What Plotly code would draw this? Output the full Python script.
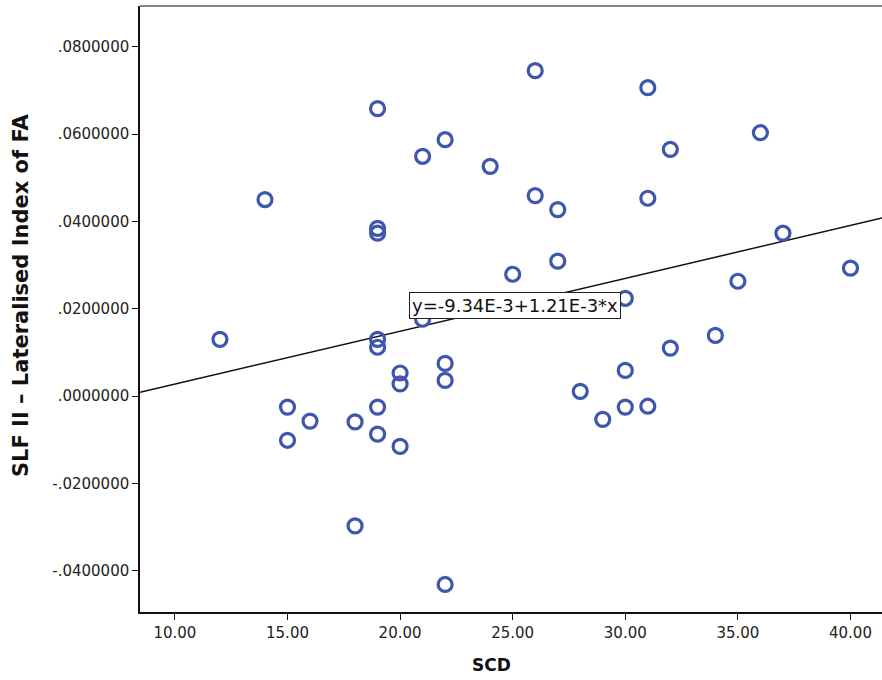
import plotly.graph_objects as go

scd = [12, 14, 15, 15, 16, 18, 18, 19, 19, 19, 19, 19, 19, 19, 20, 20, 20, 21, 21,
       22, 22, 22, 22, 24, 25, 26, 26, 27, 27, 28, 29, 30, 30, 30, 31, 31, 31,
       32, 32, 34, 35, 36, 37, 40]
lat_fa = [0.0130, 0.0450, -0.0025, -0.0101, -0.0057, -0.0059, -0.0297, 0.0658,
          0.0384, 0.0373, 0.0130, 0.0112, -0.0025, -0.0087, 0.0053, 0.0028, -0.0115,
          0.0549, 0.0176, 0.0587, 0.0075, 0.0036, -0.0431, 0.0526, 0.0279, 0.0745,
          0.0459, 0.0427, 0.0309, 0.0011, -0.0053, 0.0224, 0.0059, -0.0025, 0.0706,
          0.0453, -0.0023, 0.0565, 0.0110, 0.0139, 0.0263, 0.0603, 0.0373, 0.0293]

fit_intercept = -9.34e-3
fit_slope = 1.21e-3
fit_label = "y=-9.34E-3+1.21E-3*x"

x_range = [8.45, 41.4]
y_range = [-0.0494, 0.0893]

x_ticks = [10, 15, 20, 25, 30, 35, 40]
x_ticktext = ["10.00", "15.00", "20.00", "25.00", "30.00", "35.00", "40.00"]
y_ticks = [-0.04, -0.02, 0.0, 0.02, 0.04, 0.06, 0.08]
y_ticktext = ["-.0400000", "-.0200000", ".0000000", ".0200000", ".0400000",
              ".0600000", ".0800000"]

fig = go.Figure()

fig.add_trace(go.Scatter(
    x=x_range,
    y=[fit_intercept + fit_slope * v for v in x_range],
    mode="lines",
    line=dict(color="#111111", width=1.5),
    hoverinfo="skip",
    showlegend=False,
))

fig.add_trace(go.Scatter(
    x=scd, y=lat_fa, mode="markers",
    marker=dict(symbol="circle-open", size=14, color="#3E57AC",
                line=dict(width=3.2, color="#3E57AC")),
    showlegend=False,
))

fig.add_annotation(
    x=25.09, y=0.0208, xref="x", yref="y",
    text=fit_label, showarrow=False,
    font=dict(family="DejaVu Sans", size=18, color="#111111"),
    bgcolor="white", bordercolor="#222222", borderwidth=1, borderpad=2,
)

fig.add_annotation(
    x=0.474, y=-0.0875, xref="paper", yref="paper", yanchor="middle",
    text="<b>SCD</b>", showarrow=False,
    font=dict(family="DejaVu Sans", size=17, color="#111111"),
)
fig.add_annotation(
    x=-0.1604, y=0.523, xref="paper", yref="paper", xanchor="center", yanchor="middle",
    text="<b>SLF II – Lateralised Index of FA</b>", showarrow=False, textangle=-90,
    font=dict(family="DejaVu Sans", size=21, color="#111111"),
)

fig.add_shape(type="line", xref="paper", yref="paper", x0=0, x1=1, y0=1, y1=1,
              line=dict(color="#888888", width=2))

fig.update_layout(
    width=882, height=680,
    margin=dict(l=140, r=0, t=6, b=68),
    plot_bgcolor="white", paper_bgcolor="white",
    font=dict(family="DejaVu Sans", size=15, color="#222222"),
    xaxis=dict(range=x_range, tickvals=x_ticks, ticktext=x_ticktext,
               showgrid=False, zeroline=False, showline=True, linecolor="#111111",
               linewidth=1.5, ticks="outside", ticklen=6, tickcolor="#111111",
               tickfont=dict(size=15, color="#222222")),
    yaxis=dict(range=y_range, tickvals=y_ticks, ticktext=y_ticktext,
               showgrid=False, zeroline=False, showline=True, linecolor="#111111",
               linewidth=1.5, ticks="outside", ticklen=6, tickcolor="#111111",
               tickfont=dict(size=15, color="#222222")),
)

fig.write_html("out.html")
